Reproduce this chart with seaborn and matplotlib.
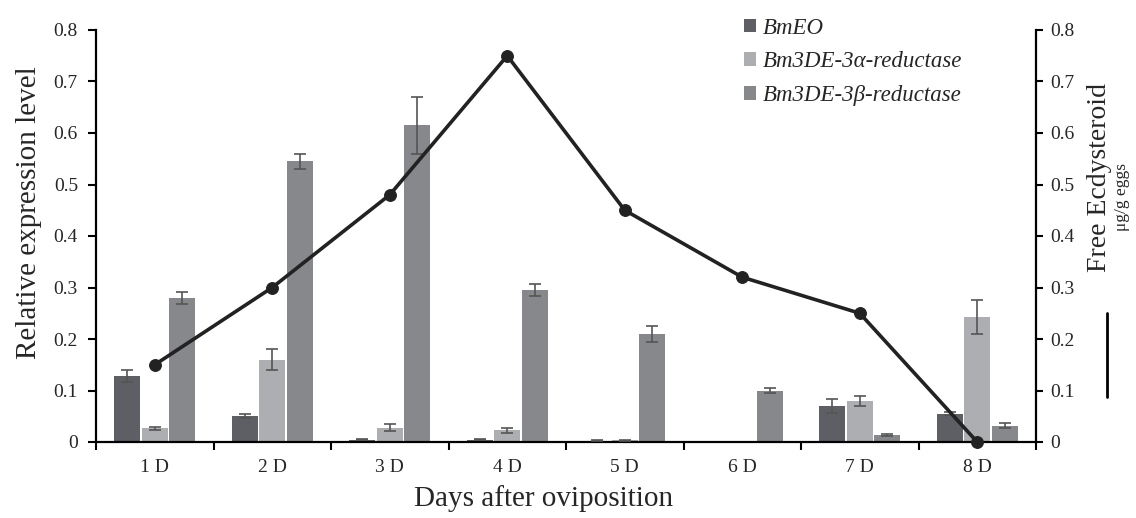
import numpy as np
import pandas as pd
import matplotlib
matplotlib.use("Agg")
import matplotlib.pyplot as plt
import seaborn as sns
from matplotlib.lines import Line2D

days = ["1 D", "2 D", "3 D", "4 D", "5 D", "6 D", "7 D", "8 D"]
genes = ["BmEO", "Bm3DE-3α-reductase", "Bm3DE-3β-reductase"]
bmeo = [0.128, 0.050, 0.004, 0.004, 0.002, 0.001, 0.070, 0.055]
bmeo_err = [0.012, 0.004, 0.001, 0.001, 0.001, 0.0, 0.014, 0.003]
alpha = [0.027, 0.160, 0.028, 0.023, 0.003, 0.000, 0.079, 0.242]
alpha_err = [0.003, 0.020, 0.006, 0.005, 0.001, 0.0, 0.010, 0.033]
beta = [0.280, 0.545, 0.615, 0.295, 0.210, 0.100, 0.013, 0.032]
beta_err = [0.012, 0.015, 0.055, 0.012, 0.015, 0.004, 0.002, 0.004]
free_ecd = [0.15, 0.30, 0.48, 0.75, 0.45, 0.32, 0.25, 0.0]
colors = ["#5e5f64", "#adaeb2", "#87888c"]

sns.set_theme(style="white")
plt.rcParams['font.family'] = ['Liberation Serif', 'DejaVu Serif']

rows = []
for g, vals in zip(genes, [bmeo, alpha, beta]):
    for d, v in zip(days, vals):
        rows.append({"day": d, "gene": g, "value": v})
df = pd.DataFrame(rows)

fig = plt.figure(figsize=(11.36, 5.18), dpi=100)
ax = fig.add_axes([96/1136, 1-442/518, (1036-96)/1136, (442-30)/518])

sns.barplot(data=df, x="day", y="value", hue="gene", order=days, hue_order=genes,
            palette=colors, width=0.7, gap=0.06, errorbar=None, ax=ax,
            saturation=1, edgecolor="none")

# error bars from bar patch positions
errs = [bmeo_err, alpha_err, beta_err]
bar_containers = list(ax.containers)
for i, cont in enumerate(bar_containers):
    xs = [p.get_x() + p.get_width()/2 for p in cont.patches]
    hs = [p.get_height() for p in cont.patches]
    e = errs[i]
    mask = [k for k in range(len(xs)) if e[k] > 0]
    ax.errorbar([xs[k] for k in mask], [hs[k] for k in mask], yerr=[e[k] for k in mask],
                fmt="none", ecolor="#555555", elinewidth=1.2, capsize=4.5, capthick=1.2, zorder=3)

ticklabels = ["0"] + [f"{v:.1f}" for v in np.arange(0.1, 0.81, 0.1)]
ax.set_ylim(0, 0.8)
ax.set_xlim(-0.5, 7.5)
ax.set_yticks(np.arange(0, 0.81, 0.1))
ax.set_yticklabels(ticklabels)
ax.set_xticks(range(8))
ax.set_xticklabels(days)
ax.set_xticks(np.arange(-0.5, 8, 1), minor=True)
ax.tick_params(axis="x", which="major", length=0, labelsize=14, pad=12)
ax.tick_params(axis="x", which="minor", length=6, width=1.5, color="black", direction="out", bottom=True)
ax.tick_params(axis="y", length=6, width=1.5, color="black", direction="out", labelsize=14, left=True, pad=7)
for s in ["left", "bottom"]:
    ax.spines[s].set_color("black")
    ax.spines[s].set_linewidth(1.6)
ax.spines["top"].set_visible(False)
ax.spines["right"].set_visible(False)
ax.set_xlabel("Days after oviposition", fontsize=21)
ax.xaxis.set_label_coords((544-96)/940, (442-485)/412)
ax.set_ylabel("Relative expression level", fontsize=21)
ax.yaxis.set_label_coords((42-96)/940, (442-213)/412)

leg = ax.legend(loc="upper left", bbox_to_anchor=(723/1136, 1+3/518),
                bbox_transform=fig.transFigure, frameon=False,
                prop={"style": "italic", "size": 16.5}, handlelength=0.55, handleheight=0.55,
                handletextpad=0.3, labelspacing=0.55)

ax2 = ax.twinx()
sns.lineplot(x=np.arange(8), y=free_ecd, ax=ax2, color="#222222", linewidth=2.6,
             marker="o", markersize=8.5, markeredgecolor="#222222", clip_on=False, zorder=5)
ax2.set_ylim(0, 0.8)
ax2.set_xlim(-0.5, 7.5)
ax2.set_yticks(np.arange(0, 0.81, 0.1))
ax2.set_yticklabels(ticklabels)
ax2.tick_params(axis="y", length=5, width=1.5, color="black", direction="out", labelsize=14, right=True, pad=5)
for s in ["top", "left", "bottom"]:
    ax2.spines[s].set_visible(False)
ax2.spines["right"].set_color("black")
ax2.spines["right"].set_linewidth(1.6)

fig.text(1099/1136, 1-178/518, "Free Ecdysteroid", rotation=90, fontsize=20, ha="center", va="center")
fig.text(1122/1136, 1-197/518, "μg/g eggs", rotation=90, fontsize=12.5, ha="center", va="center")
fig.add_artist(Line2D([1107/1136, 1107/1136], [1-313/518, 1-397/518], color="black", linewidth=2))

fig.savefig("out.png", dpi=100)
